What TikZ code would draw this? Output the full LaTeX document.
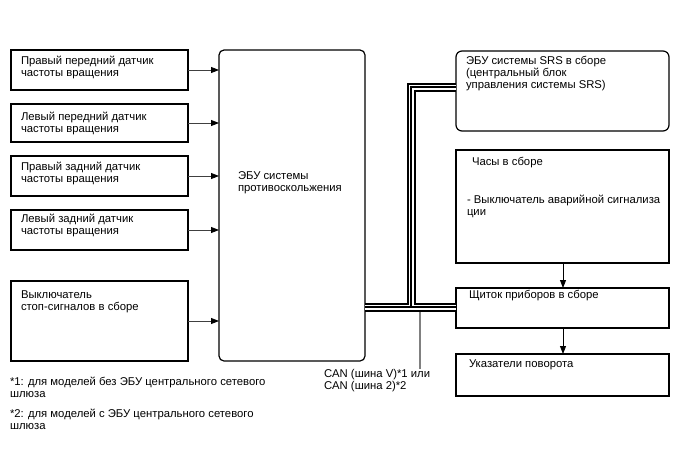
\documentclass[tikz,border=0pt]{standalone}
\usepackage{fontspec}
\setmainfont{Liberation Sans}
\usetikzlibrary{arrows.meta}
\begin{document}
\begin{tikzpicture}[x=1pt,y=-1pt,
  box/.style={draw=black, line width=1.2pt, rectangle, anchor=north west, inner sep=0pt, outer sep=0pt},
  rbox/.style={box, rounded corners=6pt},
  txt/.style={anchor=base west, inner sep=0pt, outer sep=0pt, align=left, font=\fontsize{11.3}{12}\selectfont},
  fn/.style={txt, font=\fontsize{11.3}{12}\selectfont},
  arr/.style={draw=black!75, line width=0.9pt, -{Triangle[length=8pt,width=6pt,color=black]}},
  varr/.style={draw=black, line width=0.9pt, -{Triangle[length=8pt,width=6pt,color=black]}},
  stub/.style={draw=black!50, line width=1.2pt}
]
\useasboundingbox (0,0) rectangle (688,463);

% left boxes
\node[box, minimum width=177pt, minimum height=40pt] (b1) at (11,50) {};
\node[box, minimum width=177pt, minimum height=38pt] (b2) at (11,104) {};
\node[box, minimum width=177pt, minimum height=40pt] (b3) at (11,156) {};
\node[box, minimum width=177pt, minimum height=40pt] (b4) at (11,210) {};
\node[box, minimum width=177pt, minimum height=80pt] (b5) at (11,281) {};
% ECU
\node[box, rounded corners=5pt, minimum width=146pt, minimum height=311pt] (ecu) at (219,50) {};
% right boxes
\node[rbox, minimum width=213pt, minimum height=80pt] (srs) at (456,51) {};
\node[box, minimum width=213pt, minimum height=113pt] (clock) at (456,150) {};
\node[box, minimum width=213pt, minimum height=40pt] (inst) at (456,288) {};
\node[box, minimum width=213pt, minimum height=42pt] (turn) at (456,354) {};

% texts (base = baseline of the last line)
\node[txt] (t1) at (21,76.5) {Правый передний датчик\\частоты вращения};
\node[txt] (t2) at (21,132.5) {Левый передний датчик\\частоты вращения};
\node[txt] (t3) at (21,182.5) {Правый задний датчик\\частоты вращения};
\node[txt] (t4) at (21,234.5) {Левый задний датчик\\частоты вращения};
\node[txt] (t5) at (21,310.5) {Выключатель\\стоп-сигналов в сборе};
\node[txt] (tecu) at (238,191.5) {ЭБУ системы\\противоскольжения};
\node[txt] (tsrs) at (466,88) {ЭБУ системы SRS в сборе\\(центральный блок\\управления системы SRS)};
\node[txt] (tclk1) at (472,165) {Часы в сборе};
\node[txt] (tclk2) at (467,215) {- Выключатель аварийной сигнализа\\ции};
\node[txt] (tinst) at (469,298.5) {Щиток приборов в сборе};
\node[txt] (tturn) at (469,367.5) {Указатели поворота};
\node[fn] (can) at (324,389.5) {CAN (шина V)*1 или\\CAN (шина 2)*2};
\node[fn] (fn1) at (10,397) {*1: для моделей без ЭБУ центрального сетевого\\шлюза};
\node[fn] (fn2) at (10,429.5) {*2: для моделей с ЭБУ центрального сетевого\\шлюза};

% arrows
\foreach \b in {b1,b2,b3,b4,b5}
  \draw[arr] (\b.east) -- (ecu.west |- \b.east);
\coordinate (vx) at (563,0);
\draw[varr] (clock.south -| vx) -- (inst.north -| vx);
\draw[varr] (inst.south -| vx) -- (turn.north -| vx);

% CAN bus
\coordinate (busT) at (411,307);
\coordinate (busC) at (411,87);
\coordinate (canTop) at (420,307);
\coordinate (canEnd) at (420,369);
\draw[stub] (canTop) -- (canEnd);
\foreach \w/\c in {9pt/black,5pt/white,1.5pt/black}{
  \draw[line width=\w, color=\c] (ecu.east |- busT) -- (inst.west |- busT);
  \draw[line width=\w, color=\c, line join=miter] (busT) -- (busC) -- (srs.west |- busC);
}
\end{tikzpicture}
\end{document}
